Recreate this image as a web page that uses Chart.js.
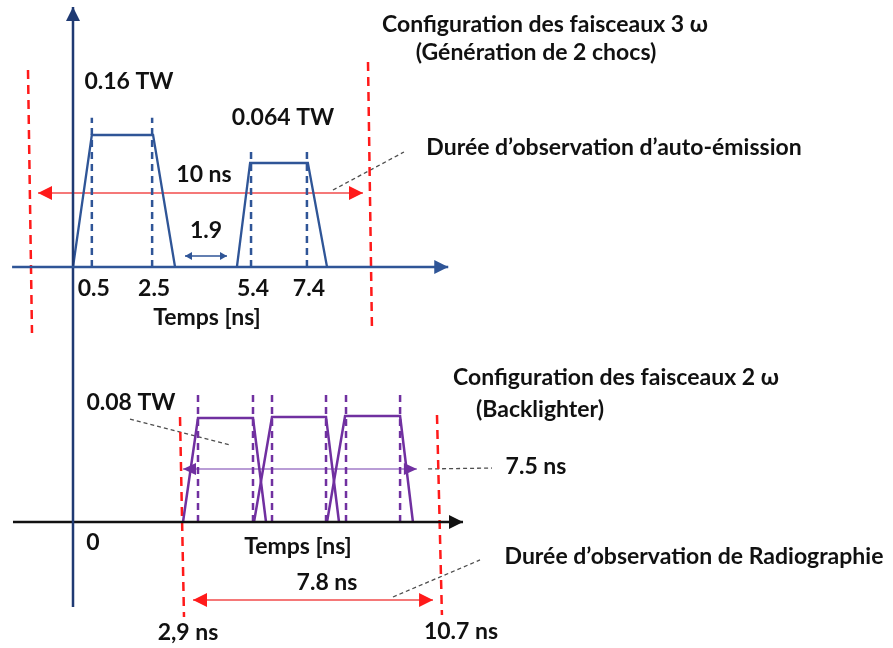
<!DOCTYPE html>
<html><head><meta charset="utf-8">
<script src="https://cdn.jsdelivr.net/npm/chart.js@4.4.1/dist/chart.umd.min.js"></script>
<style>html,body{margin:0;padding:0;background:#fff;overflow:hidden}canvas{display:block}</style>
</head><body>
<canvas id="c" width="893" height="648"></canvas>
<script>
// ================= DATA =================
// Top diagram "3 ω" : time (ns, schematic), level (normalised, 1 = first pulse)
const axis3w_t = [-1.94, 11.95];
const axis3w_l = [0, 0];
const vaxis_t = [0, 0];
const vaxis_l = [-2.576, 1.97];
const pulse3wA_t = [0, 0.6, 2.55, 3.25];
const pulse3wA_l = [0, 1, 1, 0];
const pulse3wB_t = [5.22, 5.64, 7.48, 8.09];
const pulse3wB_l = [0, 0.788, 0.788, 0];
const marks3w_t = [0.6, 2.52, 5.67, 7.45];       // dashed blue markers
const marks3w_top = [1.13, 1.13, 0.871, 0.871];
const tickLabels3w = ['0.5', '2.5', '5.4', '7.4'];
const obs3w_left_t = [-1.433, -1.306], obs3w_left_l = [1.492, -0.5];
const obs3w_right_t = [9.395, 9.52],  obs3w_right_l = [1.553, -0.455];
const span10_t = [-1.115, 9.236], span10_l = [0.561, 0.561];
const gap19_t = [3.567, 4.904],  gap19_l = [0.083, 0.083];
const lead3w_t = [8.28, 10.54],  lead3w_l = [0.583, 0.871];

// Bottom diagram "2 ω" : time (ns, schematic), level (normalised)
const axis2w_t = [-2.228, 11.43];
const axis2w_l = [0, 0];
const pulse2wA_t = [2.932, 3.387, 5.056, 5.451];
const pulse2wA_l = [0, 1.0, 1.0, 0];
const pulse2wB_t = [5.087, 5.633, 7.272, 7.666];
const pulse2wB_l = [0, 1.01, 1.01, 0];
const pulse2wC_t = [7.303, 7.85, 9.52, 9.91];
const pulse2wC_l = [0, 1.019, 1.019, 0];
const marks2w_t = [3.387, 5.056, 5.633, 7.272, 7.879, 9.52];
const marks2w_top = 1.24;
const span75_t = [2.932, 10.03], span75_l = [0.51, 0.51];
const obs2w_left_t = [2.841, 2.962], obs2w_left_l = [1.01, -0.913];
const obs2w_right_t = [10.64, 10.79], obs2w_right_l = [1.029, -0.894];
const span78_t = [3.235, 10.52], span78_l = [-0.75, -0.75];
const lead08_t = [1.323, 4.358], lead08_l = [0.99, 0.74];
const lead75_t = [10.37, 12.31], lead75_l = [0.51, 0.519];
const lead78_t = [9.305, 11.945], lead78_l = [-0.721, -0.365];

// ================= STYLE =================
const BLUE = '#2F5597', NAVY = '#1F3A73', RED = '#FF1A1A', RED_L = '#F24B4B';
const PURPLE = '#7030A0', PURPLE_L = '#A27CC9', GREY = '#4D4D4D', BLACK = '#111111';
const FONT = 'bold 23px Lato, "Open Sans", sans-serif';

const pts = (ts, ls) => ts.map((t, i) => ({x: t, y: ls[i]}));
const datasets = [];
function add(scale, ts, ls, opt) {
  datasets.push(Object.assign({
    data: pts(ts, ls), xAxisID: 'x' + scale, yAxisID: 'y' + scale,
    showLine: true, pointRadius: 0, fill: false, borderWidth: 2, tension: 0
  }, opt));
}
// top
add('A', axis3w_t, axis3w_l, {borderColor: BLUE, borderWidth: 2.5, arrowEnd: {len: 14, w: 7, color: BLUE}});
add('A', vaxis_t, vaxis_l, {borderColor: NAVY, borderWidth: 2.5, arrowEnd: {len: 14, w: 7, color: NAVY}});
add('A', pulse3wA_t, pulse3wA_l, {borderColor: BLUE, borderWidth: 2.3});
add('A', pulse3wB_t, pulse3wB_l, {borderColor: BLUE, borderWidth: 2.3});
marks3w_t.forEach((t, i) => add('A', [t, t], [0, marks3w_top[i]], {borderColor: BLUE, borderWidth: 2.5, borderDash: [7, 5]}));
add('A', obs3w_left_t, obs3w_left_l, {borderColor: RED, borderWidth: 2.5, borderDash: [9, 6]});
add('A', obs3w_right_t, obs3w_right_l, {borderColor: RED, borderWidth: 2.5, borderDash: [9, 6]});
add('A', span10_t, span10_l, {borderColor: RED_L, borderWidth: 1.5, arrowStart: {len: 14, w: 7, color: RED}, arrowEnd: {len: 14, w: 7, color: RED}});
add('A', gap19_t, gap19_l, {borderColor: BLUE, borderWidth: 1.5, arrowStart: {len: 7, w: 4, color: BLUE}, arrowEnd: {len: 7, w: 4, color: BLUE}});
add('A', lead3w_t, lead3w_l, {borderColor: GREY, borderWidth: 1.3, borderDash: [4, 3]});
// bottom
add('B', axis2w_t, axis2w_l, {borderColor: BLACK, borderWidth: 2.5, arrowEnd: {len: 14, w: 7, color: BLACK}});
add('B', pulse2wA_t, pulse2wA_l, {borderColor: PURPLE, borderWidth: 2.5});
add('B', pulse2wB_t, pulse2wB_l, {borderColor: PURPLE, borderWidth: 2.5});
add('B', pulse2wC_t, pulse2wC_l, {borderColor: PURPLE, borderWidth: 2.5});
marks2w_t.forEach(t => add('B', [t, t], [0, marks2w_top], {borderColor: PURPLE, borderWidth: 2.5, borderDash: [7, 5]}));
add('B', span75_t, span75_l, {borderColor: PURPLE_L, borderWidth: 1.5, arrowStart: {len: 13, w: 6, color: PURPLE}, arrowEnd: {len: 13, w: 6, color: PURPLE}});
add('B', obs2w_left_t, obs2w_left_l, {borderColor: RED, borderWidth: 2.5, borderDash: [9, 6]});
add('B', obs2w_right_t, obs2w_right_l, {borderColor: RED, borderWidth: 2.5, borderDash: [9, 6]});
add('B', span78_t, span78_l, {borderColor: RED_L, borderWidth: 1.5, arrowStart: {len: 14, w: 7, color: RED}, arrowEnd: {len: 14, w: 7, color: RED}});
add('B', lead08_t, lead08_l, {borderColor: GREY, borderWidth: 1.3, borderDash: [4, 3]});
add('B', lead75_t, lead75_l, {borderColor: GREY, borderWidth: 1.3, borderDash: [4, 3]});
add('B', lead78_t, lead78_l, {borderColor: GREY, borderWidth: 1.3, borderDash: [4, 3]});

// text labels (page layout, px); \u200C keeps "ti" from forming a ligature
const texts = [
  {s: 'Configura\u200Ction des faisceaux 3 ω', px: 545, py: 25},
  {s: '(Génération de 2 chocs)', px: 536, py: 53},
  {s: '0.16 TW', px: 129, py: 82},
  {s: '0.064 TW', px: 283, py: 118},
  {s: 'Durée d\u2019observation d\u2019auto-émission', px: 614, py: 148},
  {s: '10 ns', px: 204, py: 175},
  {s: '1.9', px: 206, py: 231},
  {s: 'Temps [ns]', px: 207, py: 318},
  {s: 'Configura\u200Ction des faisceaux 2 ω', px: 616, py: 378},
  {s: '(Backlighter)', px: 540, py: 410},
  {s: '0.08 TW', px: 131, py: 403},
  {s: '7.5 ns', px: 536, py: 467},
  {s: '0', px: 93, py: 543},
  {s: 'Temps [ns]', px: 298, py: 547},
  {s: 'Durée d\u2019observation de Radiographie', px: 694, py: 557},
  {s: '7.8 ns', px: 327, py: 583},
  {s: '2,9 ns', px: 188, py: 633},
  {s: '10.7 ns', px: 461, py: 632}
];

const arrowPlugin = {
  id: 'arrows',
  afterDatasetsDraw(chart) {
    const ctx = chart.ctx;
    chart.data.datasets.forEach((ds, i) => {
      const el = chart.getDatasetMeta(i).data;
      if (!el || el.length < 2) return;
      const head = (tip, from, a) => {
        const dx = tip.x - from.x, dy = tip.y - from.y, d = Math.hypot(dx, dy) || 1;
        const ux = dx / d, uy = dy / d;
        const bx = tip.x - ux * a.len, by = tip.y - uy * a.len;
        ctx.save(); ctx.fillStyle = a.color; ctx.beginPath();
        ctx.moveTo(tip.x, tip.y);
        ctx.lineTo(bx - uy * a.w, by + ux * a.w);
        ctx.lineTo(bx + uy * a.w, by - ux * a.w);
        ctx.closePath(); ctx.fill(); ctx.restore();
      };
      if (ds.arrowEnd) head(el[el.length - 1], el[el.length - 2], ds.arrowEnd);
      if (ds.arrowStart) head(el[0], el[1], ds.arrowStart);
    });
    // tick labels of the 3ω diagram under the dashed markers
    ctx.save();
    ctx.font = FONT; ctx.fillStyle = BLACK; ctx.textAlign = 'center'; ctx.textBaseline = 'middle';
    const xA = chart.scales.xA, yA = chart.scales.yA;
    marks3w_t.forEach((t, i) => ctx.fillText(tickLabels3w[i], xA.getPixelForValue(t) + 2, yA.getPixelForValue(0) + 22));
    texts.forEach(o => ctx.fillText(o.s, o.px, o.py));
    ctx.restore();
  }
};

// scale ranges chosen so the two schematic diagrams sit where they do in the figure
const W = 893, H = 648;
const kA = 31.4, x0A = 73, yk_A = 132, y0A = 267;
const kB = 32.95, x0B = 86.4, yk_B = 104, y0B = 522;
const hidden = (min, max, axis, pos) => ({type: 'linear', axis, position: pos, display: false, min, max, grace: 0});

new Chart(document.getElementById('c'), {
  type: 'scatter',
  data: {datasets},
  options: {
    responsive: false, animation: false, devicePixelRatio: 1,
    layout: {padding: 0},
    plugins: {legend: {display: false}, tooltip: {enabled: false}},
    scales: {
      xA: hidden(-x0A / kA, (W - x0A) / kA, 'x', 'bottom'),
      yA: hidden((y0A - H) / yk_A, y0A / yk_A, 'y', 'left'),
      xB: hidden(-x0B / kB, (W - x0B) / kB, 'x', 'bottom'),
      yB: hidden((y0B - H) / yk_B, y0B / yk_B, 'y', 'left')
    }
  },
  plugins: [arrowPlugin]
});
</script>
</body></html>
